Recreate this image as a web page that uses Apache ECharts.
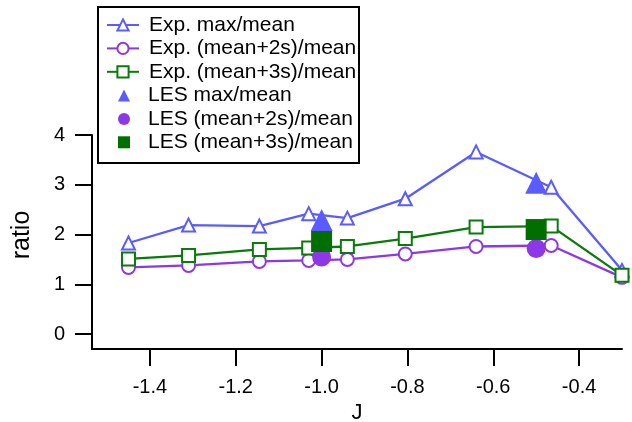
<!DOCTYPE html>
<html><head><meta charset="utf-8">
<script src="https://cdn.jsdelivr.net/npm/echarts@6/dist/echarts.min.js"></script>
<style>html,body{margin:0;padding:0;background:#fff}#c{width:632px;height:422px}</style>
</head><body><div id="c"></div>
<script>
// Experimental data
const expJ = [-1.45, -1.31, -1.145, -1.03, -0.94, -0.805, -0.64, -0.465, -0.30];
const expMax = [1.83, 2.19, 2.17, 2.42, 2.33, 2.72, 3.66, 2.95, 1.28];
const expM2s = [1.34, 1.38, 1.46, 1.48, 1.50, 1.61, 1.76, 1.78, 1.14];
const expM3s = [1.51, 1.58, 1.70, 1.73, 1.76, 1.92, 2.15, 2.17, 1.18];
// LES data
const lesJ = [-1.0, -0.5];
const lesMax = [2.29, 3.04];
const lesM2s = [1.55, 1.72];
const lesM3s = [1.86, 2.10];
// Axis ticks
const xTicks = [-1.4, -1.2, -1.0, -0.8, -0.6, -0.4];
const yTicks = [0, 1, 2, 3, 4];
const expNames = ['Exp. max/mean', 'Exp. (mean+2s)/mean', 'Exp. (mean+3s)/mean'];
const lesNames = ['LES max/mean', 'LES (mean+2s)/mean', 'LES (mean+3s)/mean'];

const zip = (xs, ys) => xs.map((x, i) => [x, ys[i]]);
const FONT = 'Liberation Sans, Arial, Helvetica, sans-serif';
const BLUE = '#5a5cff', PURPLE = '#8c38e6', GREEN = '#0a7a0a', DGREEN = '#006f00';

const chart = echarts.init(document.getElementById('c'), null, {renderer: 'canvas'});
function expSeries(name, data, sym, color) {
  return {
    name, type: 'line', data, symbol: sym, symbolSize: 13, clip: false,
    lineStyle: {color, width: 2.3}, itemStyle: {color, borderWidth: 1.3}, z: 2,
    emphasis: {disabled: true}
  };
}
function lesSeries(name, data, sym, color, size) {
  return {
    name, type: 'scatter', data, symbol: sym, symbolSize: size, clip: false,
    itemStyle: {color, opacity: 1}, z: 3, emphasis: {disabled: true}
  };
}
const legendText = pad => ({fontSize: 21, color: '#000', fontFamily: FONT, lineHeight: 21, padding: [0, 0, 0, pad]});
chart.setOption({
  animation: false,
  backgroundColor: '#fff',
  grid: {left: 92, right: 10, top: 135, bottom: 73, containLabel: false, outerBoundsMode: 'none'},
  graphic: [{
    type: 'rect', left: 97, top: 6, z: 1,
    shape: {width: 261, height: 156},
    style: {fill: '#fff', stroke: '#000', lineWidth: 2}
  }],
  xAxis: {
    type: 'value', min: -1.535, max: -0.30,
    name: 'J', nameLocation: 'middle', nameGap: 46,
    nameTextStyle: {fontSize: 22, color: '#000', fontFamily: FONT},
    axisLine: {show: true, onZero: false, lineStyle: {color: '#000', width: 2}},
    axisTick: {show: true, inside: false, length: 17, customValues: xTicks, lineStyle: {color: '#000', width: 2}},
    axisLabel: {show: true, customValues: xTicks, margin: 28, fontSize: 20, color: '#000', fontFamily: FONT,
      formatter: v => v.toFixed(1)},
    splitLine: {show: false}
  },
  yAxis: {
    type: 'value', min: -0.3, max: 4,
    name: 'ratio', nameLocation: 'middle', nameGap: 57, nameRotate: 90,
    nameTextStyle: {fontSize: 25, color: '#000', fontFamily: FONT, padding: [0, 0, 0, 14]},
    axisLine: {show: true, onZero: false, lineStyle: {color: '#000', width: 2}},
    axisTick: {show: true, inside: false, length: 17, customValues: yTicks, lineStyle: {color: '#000', width: 2}},
    axisLabel: {show: true, customValues: yTicks, margin: 27, fontSize: 20, color: '#000', fontFamily: FONT},
    splitLine: {show: false}
  },
  legend: [{
    orient: 'vertical', left: 106, top: 14.5, padding: 0,
    itemGap: 2.4, itemWidth: 32, itemHeight: 14,
    textStyle: legendText(5), selectedMode: false, z: 5,
    data: expNames
  }, {
    orient: 'vertical', left: 118, top: 85, padding: 0,
    itemGap: 2.4, itemWidth: 12, itemHeight: 12,
    textStyle: legendText(13), selectedMode: false, z: 5,
    data: lesNames
  }],
  series: [
    expSeries(expNames[0], zip(expJ, expMax), 'emptyTriangle', BLUE),
    expSeries(expNames[1], zip(expJ, expM2s), 'emptyCircle', PURPLE),
    expSeries(expNames[2], zip(expJ, expM3s), 'emptyRect', GREEN),
    lesSeries(lesNames[0], zip(lesJ, lesMax), 'triangle', BLUE, 22),
    lesSeries(lesNames[1], zip(lesJ, lesM2s), 'circle', PURPLE, 19),
    lesSeries(lesNames[2], zip(lesJ, lesM3s), 'rect', DGREEN, 21)
  ]
});
</script>
</body></html>
